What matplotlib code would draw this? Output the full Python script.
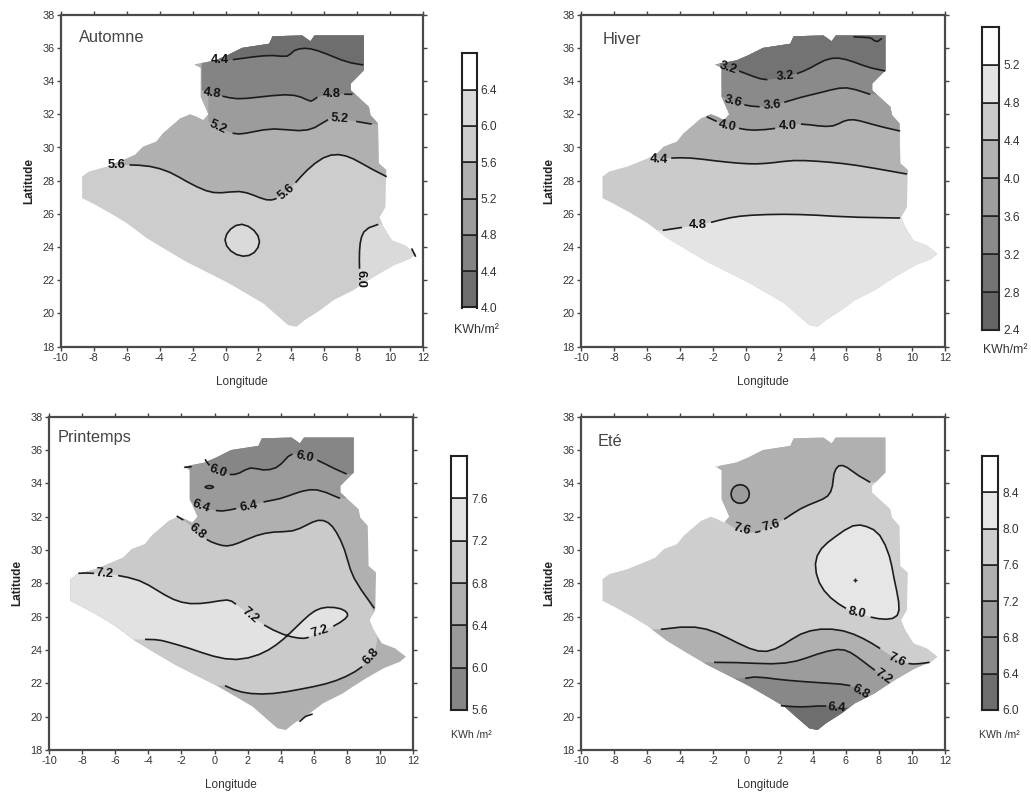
import matplotlib
matplotlib.use("Agg")
import matplotlib.pyplot as plt
import numpy as np
from matplotlib.path import Path
from matplotlib.patches import Polygon

plt.rcParams['font.family'] = ['Liberation Sans', 'DejaVu Sans']

W, H = 1031, 792
XTICKS = list(range(-10, 13, 2))
XLABELS = [str(v) for v in XTICKS]
YTICKS = list(range(18, 39, 2))

# Map outline (lon, lat)
OUTLINE = [(-1.9,35),(-1.5,34.8),(-1.5,33.05),(-1.04,32),(-1.35,31.65),(-1.75,31.85),(-2.15,32),(-2.75,31.75),
           (-3.45,31.15),(-3.8,30.85),(-4.2,30.35),(-5,30.05),(-5.5,29.55),(-6.2,29.25),(-7.2,28.85),(-8.3,28.55),
           (-8.7,28.25),(-8.7,26.95),(-8.1,26.65),(-7,26.05),(-6,25.45),(-4.8,24.55),(-3.55,23.8),(-2.35,23.1),
           (-1.15,22.5),(0.05,21.9),(1.1,21.3),(2.3,20.6),(3.1,19.9),(3.8,19.3),(4.3,19.2),(4.8,19.6),(5.75,20.2),
           (6.55,20.8),(7.75,21.4),(8.35,21.8),(9.15,22.3),(10.2,22.9),(11.2,23.3),(11.55,23.6),(10.9,24.1),
           (10.1,24.4),(9.6,25.2),(9.35,25.8),(9.7,26.4),(9.75,28.65),(9.3,29.05),(9.25,31.45),(8.8,31.95),
           (8.7,32.45),(7.6,33.45),(7.6,33.85),(8.4,34.65),(8.4,36.75),(5.4,36.75),(5.15,36.4),(4.65,36.75),
           (2.85,36.7),(2.65,36.25),(1,36),(0.1,35.55),(-0.6,35.25)]

# ---------- Automne ----------
AUT_LEVELS = [4.0,4.4,4.8,5.2,5.6,6.0,6.4,6.8]
AUT_GREYS = ['#6e6e6e','#848484','#9c9c9c','#b0b0b0','#cdcdcd','#dadada','#ffffff']
AUT_44 = [(-0.84,35.27),(-0.37,35.27),(0.37,35.27),(1.69,35.47),(2.9,35.57),(3.81,35.43),(4.12,35.87),(4.82,36.01),
          (5.53,35.87),(6.54,35.47),(7.55,35.07),(8.36,34.97)]
AUT_48 = [(-1.45,33.46),(-0.84,33.26),(-0.23,33.1),(0.68,32.9),(1.89,33.02),(3.71,33.22),(4.62,33.06),(5.23,32.7),
          (5.49,33.06),(6.44,33.2),(7.15,33.22),(7.7,33.2)]
AUT_52 = [(-1.04,31.55),(-0.43,31.25),(0.07,30.95),(0.78,30.77),(1.69,30.95),(2.9,31.17),(4.52,30.97),(5.43,31.15),
          (6.24,31.75),(6.9,31.75),(7.75,31.6),(8.87,31.41)]
AUT_56 = [(-7.1,28.94),(-6.6,28.94),(-5.9,28.96),(-4.58,28.9),(-3.37,28.54),(-2.36,27.94),(-1.14,27.34),(-0.33,27.24),
          (0.88,27.4),(1.69,27.14),(2.5,26.8),(3.1,26.88),(3.71,27.34),(4.22,27.84),(4.92,28.64),(5.94,29.45),
          (6.85,29.63),(7.75,29.35),(8.77,28.74),(9.78,28.24)]
AUT_60A = [(-0.13,24.43),(0.27,25.13),(0.98,25.47),(1.79,25.03),(2.15,24.33),(1.79,23.62),(1.08,23.38),(0.27,23.72),(-0.13,24.43)]
AUT_60B = [(9.27,25.37),(8.56,25.19),(8.22,24.63),(8.12,23.82),(8.12,22.72),(8.16,22.06)]
AUT_60C = [(11.29,23.92),(11.54,23.42)]
AUT_LABELS = [('4.4',-0.37,35.27,0),('4.8',-0.84,33.26,-8),('4.8',6.44,33.2,0),('5.2',-0.43,31.25,-25),('5.2',6.9,31.75,-4),
              ('5.6',-6.6,28.94,0),('5.6',3.71,27.34,40),('6.0',8.16,22.06,-90)]

# ---------- Hiver ----------
HIV_LEVELS = [2.4,2.8,3.2,3.6,4.0,4.4,4.8,5.2,5.6]
HIV_GREYS = ['#666666','#737373','#8a8a8a','#9e9e9e','#b2b2b2','#cbcbcb','#e4e4e4','#ffffff']
HIV_32 = [(-1.69,35.07),(-1.09,34.77),(-0.48,34.63),(0.42,34.27),(1.23,34.02),(2.34,34.27),(3.04,34.43),(3.85,34.77),
          (4.76,35.31),(5.56,35.43),(6.47,35.17),(7.48,34.77),(8.39,34.61)]
HIV_28 = [(6.47,36.67),(7.28,36.63),(7.58,36.6),(7.88,36.27),(8.19,36.57)]
HIV_36 = [(-1.6,33.1),(-0.79,32.76),(-0.18,32.56),(0.83,32.42),(1.59,32.56),(2.24,32.7),(3.25,33.02),(4.46,33.3),
          (5.67,33.62),(6.47,33.56),(7.48,33.2)]
HIV_40 = [(-2.4,31.85),(-1.69,31.51),(-1.15,31.31),(-0.48,31.15),(0.42,31.01),(1.83,31.15),(2.48,31.29),(3.25,31.45),
          (4.35,31.29),(5.26,31.25),(5.87,31.61),(6.47,31.71),(7.28,31.49),(8.29,31.21),(9.29,30.99)]
HIV_44 = [(-5.8,29.4),(-5.26,29.3),(-4.62,29.37),(-3.41,29.39),(-1.79,29.18),(-0.38,29.04),(0.63,29.0),(1.63,29.08),
          (2.84,29.24),(4.25,29.18),(5.87,29.04),(7.48,28.8),(9.7,28.4)]
HIV_48 = [(-5.06,25.01),(-3.61,25.23),(-2.96,25.31),(-2.2,25.47),(-0.99,25.79),(0.22,25.93),(2.24,25.99),(4.25,25.93),
          (6.27,25.79),(9.29,25.75)]
HIV_LABELS = [('3.2',-1.09,34.77,-18),('3.2',2.34,34.27,5),('3.6',-0.79,32.76,-15),('3.6',1.59,32.56,5),('4.0',-1.15,31.31,-12),
              ('4.0',2.48,31.29,0),('4.4',-5.26,29.3,-3),('4.8',-2.96,25.31,0)]

# ---------- Printemps ----------
PRI_LEVELS = [5.6,6.0,6.4,6.8,7.2,7.6,8.0]
PRI_GREYS = ['#868686','#9a9a9a','#b0b0b0','#cacaca','#e2e2e2','#ffffff']
PRI_60 = [(-0.58,35.44),(-0.32,35.0),(0.23,34.74),(0.93,34.48),(1.53,34.6),(2.14,35.0),(2.94,34.76),(3.75,34.9),(4.25,35.4),
          (4.65,35.84),(5.46,35.6),(6.16,35.44),(7.17,34.9),(7.97,34.56)]
PRI_60B = [(-1.83,34.96),(-1.38,35.0)]
PRI_60C = [(-0.66,33.78),(-0.32,33.9),(0.02,33.78),(-0.32,33.66),(-0.66,33.78)]
PRI_64 = [(-1.55,32.9),(-0.84,32.64),(-0.28,32.44),(0.43,32.3),(1.33,32.5),(2.04,32.6),(2.94,32.9),(3.95,33.06),(4.85,33.4),
          (5.76,33.66),(6.57,33.56),(7.57,33.1)]
PRI_68N = [(-2.29,32.04),(-1.89,31.84),(-1.04,31.1),(-0.48,30.6),(0.12,30.36),(0.73,30.2),(1.43,30.4),(2.54,30.9),(3.55,31.1),
           (4.75,31.1),(5.56,31.5),(6.26,31.84),(6.87,31.7),(7.37,31.1),(7.88,30.0),(8.18,28.8),(8.68,27.8),(9.65,26.5)]
PRI_68S = [(0.63,21.86),(1.13,21.6),(2.14,21.36),(3.55,21.36),(5.16,21.64),(6.77,21.96),(7.97,22.4),(8.98,23.0),(9.49,23.64),(9.89,24.3)]
PRI_64S = [(5.12,19.7),(5.46,20.1),(5.92,20.16)]
PRI_72 = [(-8.23,28.6),(-7.93,28.64),(-6.62,28.56),(-5.91,28.5),(-4.5,28.2),(-3.5,27.6),(-2.49,27.0),(-1.49,26.74),(-0.28,26.84),
          (0.83,27.06),(1.23,26.8),(2.14,26.1),(2.94,25.5),(4.15,24.9),(5.16,24.68),(5.66,24.72),(6.36,25.1),(7.17,25.4),(7.97,25.9),
          (8.08,26.2),(7.67,26.5),(6.77,26.6),(6.06,26.4),(5.36,25.8),(4.55,25.0),(3.75,24.3),(2.74,23.7),(1.33,23.36),(-0.08,23.6),
          (-1.49,24.1),(-2.89,24.5),(-3.5,24.64),(-4.2,24.64)]
PRI_LABELS = [('6.0',0.23,34.74,-20),('6.0',5.46,35.6,-12),('6.4',-0.84,32.64,-20),('6.4',2.04,32.6,10),('6.8',-1.04,31.1,-40),
              ('6.8',9.49,23.64,48),('7.2',-6.62,28.56,-4),('7.2',2.14,26.1,-40),('7.2',6.36,25.1,18)]

# ---------- Ete ----------
ETE_LEVELS = [6.0,6.4,6.8,7.2,7.6,8.0,8.4,8.8]
ETE_GREYS = ['#6e6e6e','#888888','#9c9c9c','#b0b0b0','#cecece','#e6e6e6','#ffffff']
ETE_76N = [(-1.19,31.6),(-0.58,31.2),(-0.28,31.24),(0.22,31.0),(0.83,31.1),(1.53,31.44),(2.24,31.8),(3.25,32.5),(4.25,32.9),
           (4.96,33.2),(5.22,33.8),(5.26,34.6),(5.56,35.14),(6.07,35.0),(6.67,34.5),(7.48,34.06)]
ETE_72C = [(-0.98,33.36),(-0.8,33.8),(-0.38,33.96),(0.04,33.8),(0.22,33.36),(0.04,32.92),(-0.38,32.76),(-0.8,32.92),(-0.98,33.36)]
ETE_80 = [(6.47,31.56),(5.36,30.8),(4.46,30.1),(4.09,29.2),(4.35,28.0),(5.06,27.1),(6.07,26.44),(6.67,26.24),(7.48,25.96),(8.49,25.8),
          (9.19,26.0),(9.25,26.8),(8.89,28.4),(8.69,29.6),(8.08,31.0),(7.28,31.44),(6.47,31.56)]
ETE_DOT = (6.55, 28.2)
ETE_76S = [(-5.18,25.24),(-3.81,25.44),(-2.4,25.3),(-1.19,24.76),(0.22,24.04),(1.23,23.84),(2.24,24.3),(3.25,25.0),(4.46,25.3),
           (5.87,25.2),(7.08,24.7),(8.08,24.1),(9.09,23.4),(9.8,23.16),(10.4,23.16),(11.07,23.26)]
ETE_72 = [(-1.96,23.26),(-0.54,23.26),(1.63,23.14),(3.04,23.3),(4.25,23.76),(5.56,24.1),(6.27,23.9),(7.08,23.3),(7.79,22.76),
          (8.29,22.4),(8.8,22.0)]
ETE_68 = [(-0.08,22.3),(0.42,22.44),(1.83,22.24),(3.45,22.1),(5.06,22.0),(6.37,21.9),(6.92,21.5),(7.48,21.14)]
ETE_64 = [(2.08,20.66),(2.84,20.58),(3.85,20.6),(4.76,20.68),(5.46,20.56)]
ETE_LABELS = [('7.6',-0.28,31.24,-15),('7.6',1.53,31.44,15),('8.0',6.67,26.24,-12),('7.6',9.09,23.4,-25),('7.2',8.29,22.4,-35),
              ('6.8',6.92,21.5,-30),('6.4',5.46,20.56,-5)]


def smooth(points):
    p = np.asarray(points, float)
    if len(p) < 3:
        return p
    if np.allclose(p[0], p[-1]):
        # closed loop: start and end on a midpoint so the loop has no corner
        mid = (p[0] + p[1]) / 2
        p = np.vstack([mid, p[1:], mid])
    verts = [p[0]]
    codes = [Path.MOVETO]
    for i in range(1, len(p) - 1):
        end = p[i + 1] if i == len(p) - 2 else (p[i] + p[i + 1]) / 2
        verts += [p[i], end]
        codes += [Path.CURVE3, Path.CURVE3]
    return Path(verts, codes).to_polygons(closed_only=False)[0]


def axes_px(x0, y0, x1, y1):
    return fig.add_axes([x0 / W, 1 - y1 / H, (x1 - x0) / W, (y1 - y0) / H])


def draw_map(rect, title, title_xy, base, fills, lines, labels, cbrect, levels, greys, unit, unit_xy, unit_size):
    ax = axes_px(*rect)
    ax.set_xlim(-10, 12)
    ax.set_ylim(18, 38)
    clip = Polygon(OUTLINE, closed=True, facecolor=base, edgecolor='none', zorder=1)
    ax.add_patch(clip)
    for pts, closure, col in fills:
        poly = np.vstack([smooth(pts)] + ([np.asarray(closure, float)] if closure else []))
        pa = Polygon(poly, closed=True, facecolor=col, edgecolor='none', zorder=2)
        ax.add_patch(pa)
        pa.set_clip_path(clip)
    for pts in lines:
        v = smooth(pts).copy()
        for _, lx, ly, _r in labels:
            d = np.hypot(v[:, 0] - lx, v[:, 1] - ly)
            v[d < 0.62] = np.nan
        ax.plot(v[:, 0], v[:, 1], color='#1c1c1c', lw=1.2, zorder=3, solid_capstyle='butt')
    for t, lx, ly, r in labels:
        ax.text(lx, ly, t, rotation=r, rotation_mode='anchor', ha='center', va='center',
                fontsize=9.2, fontweight='bold', color='#111111', zorder=4)
    ax.set_xticks(XTICKS)
    ax.set_xticklabels(XLABELS)
    ax.set_yticks(YTICKS)
    ax.tick_params(top=True, right=True, direction='out', length=3, width=1, color='#444444',
                   labelsize=7.8, labelcolor='#333333', pad=1.5)
    for s in ax.spines.values():
        s.set_linewidth(1.6)
        s.set_color('#4a4a4a')
    ax.set_xlabel('Longitude', fontsize=8.5, color='#333333', labelpad=9.5)
    ax.set_ylabel('Latitude', fontsize=8.5, color='#222222', labelpad=5, fontweight='bold')
    fig.text(title_xy[0] / W, 1 - title_xy[1] / H, title, fontsize=11.8, color='#444444', ha='left', va='center')

    cb = axes_px(*cbrect)
    for lo, hi, g in zip(levels[:-1], levels[1:], greys):
        cb.bar(0, hi - lo, bottom=lo, width=1, color=g, edgecolor='#222222', linewidth=1.2)
    cb.set_xlim(-0.5, 0.5)
    cb.set_ylim(levels[0], levels[-1])
    cb.set_xticks([])
    cb.yaxis.tick_right()
    cb.set_yticks(levels[:-1])
    cb.set_yticklabels([f'{v:.1f}' for v in levels[:-1]])
    cb.tick_params(length=0, labelsize=8.6, labelcolor='#333333', pad=3)
    for s in cb.spines.values():
        s.set_linewidth(1.5)
        s.set_color('#222222')
    fig.text(unit_xy[0] / W, 1 - unit_xy[1] / H, unit, fontsize=unit_size, color='#333333', ha='center', va='center')
    return ax


def north(pts):
    return [(12, pts[-1][1]), (12, 38), (pts[0][0], 38)]


def south(pts):
    return [(12, pts[-1][1]), (12, 18), (-10, 18), (-10, pts[0][1])]


fig = plt.figure(figsize=(W / 100, H / 100), dpi=100, facecolor='white')

g = AUT_GREYS
draw_map((60.7, 14.7, 423.3, 346.7), 'Automne', (79, 38), g[4],
         [(AUT_56, north(AUT_56), g[3]), (AUT_52, north(AUT_52), g[2]), (AUT_48, north(AUT_48), g[1]),
          (AUT_44, north(AUT_44), g[0]), (AUT_60A, None, g[5]), (AUT_60B, [(12, 22.06), (12, 25.37)], g[5])],
         [AUT_44, AUT_48, AUT_52, AUT_56, AUT_60A, AUT_60B, AUT_60C], AUT_LABELS,
         (461.7, 53.3, 476.7, 307.5), AUT_LEVELS, AUT_GREYS, 'KWh/m²', (476, 330), 9)

g = HIV_GREYS
draw_map((581, 14.7, 945, 346.7), 'Hiver', (603, 40), g[5],
         [(HIV_44, north(HIV_44), g[4]), (HIV_40, north(HIV_40), g[3]), (HIV_36, north(HIV_36), g[2]),
          (HIV_32, north(HIV_32), g[1]), (HIV_48, south(HIV_48), g[6])],
         [HIV_28, HIV_32, HIV_36, HIV_40, HIV_44, HIV_48], HIV_LABELS,
         (982.3, 26.7, 999.3, 330), HIV_LEVELS, HIV_GREYS, 'KWh/m²', (1005, 350), 8.8)

g = PRI_GREYS
draw_map((49, 416.7, 413.3, 750), 'Printemps', (58, 438), g[2],
         [(PRI_68N + PRI_68S[::-1], [(-10, 21.86), (-10, 32.04)], g[3]),
          (PRI_72, [(-10, 24.64), (-10, 28.6)], g[4]),
          (PRI_64, north(PRI_64), g[1]), (PRI_60, north(PRI_60), g[0])],
         [PRI_60, PRI_60B, PRI_60C, PRI_64, PRI_68N, PRI_68S, PRI_64S, PRI_72], PRI_LABELS,
         (451, 456, 467, 710), PRI_LEVELS, PRI_GREYS, 'KWh /m²', (471, 735), 7.6)

g = ETE_GREYS
ax_ete = draw_map((581, 416.7, 945, 750), 'Eté', (598, 442), g[4],
         [(ETE_76N, [(12, 34.06), (12, 38), (-1.7, 38), (-1.7, 32.2)], g[3]), (ETE_72C, None, g[2]), (ETE_80, None, g[5]),
          (ETE_76S, south(ETE_76S), g[3]), (ETE_72, south(ETE_72), g[2]),
          (ETE_68, south(ETE_68), g[1]), (ETE_64, south(ETE_64), g[0])],
         [ETE_76N, ETE_72C, ETE_80, ETE_76S, ETE_72, ETE_68, ETE_64], ETE_LABELS,
         (982.3, 456, 998.3, 710), ETE_LEVELS, ETE_GREYS, 'KWh /m²', (999, 735), 7.6)
ax_ete.plot([ETE_DOT[0]], [ETE_DOT[1]], marker='+', ms=3, mew=1, color='#222222', zorder=5)

fig.savefig('out.png', dpi=100)
